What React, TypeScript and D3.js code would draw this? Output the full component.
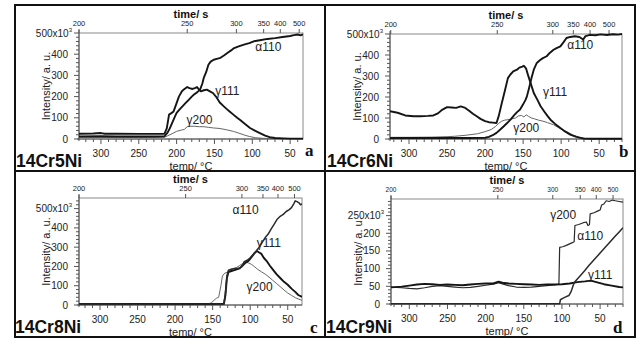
import React from "react";
import * as d3 from "d3";

type Pt = [number, number];

const FONT = "'Liberation Sans', Arial, Helvetica, sans-serif";
const SERIF = "'Liberation Serif', 'DejaVu Serif', serif";

// shared axis ticks
const tempTicks = [300, 250, 200, 150, 100, 50];
const timeTicks = [200, 250, 300, 350, 400, 500];

// temperature (°C) at which each time tick (s) falls, per panel
const timeTempA = [329, 186, 121, 85, 63, 38];
const timeTempB = [324, 184, 111, 84, 62, 37];
const timeTempC = [328, 186, 111, 83, 63, 41];
const timeTempD = [324, 184, 112, 76, 55, 33];

// ---------- panel a : 14Cr5Ni ----------
const a_alpha110: Pt[] = [
  [329, 12], [300, 13], [280, 12], [250, 12], [230, 12], [216, 13], [212, 30], [209, 50], [206, 75],
  [203, 100], [200, 123], [196, 140], [192, 155], [188, 170], [184, 185], [180, 200], [177, 210],
  [173, 220], [169, 233], [166, 262], [164, 290], [161, 315], [158, 350], [155, 365], [151, 374],
  [147, 378], [142, 383], [137, 395], [133, 406], [128, 418], [124, 429], [118, 437], [111, 445],
  [104, 452], [98, 461], [90, 466], [80, 472], [70, 476], [60, 481], [50, 486], [45, 490], [40, 493],
  [36, 489], [33, 494],
];
const a_gamma111: Pt[] = [
  [329, 25], [310, 26], [300, 28], [295, 25], [280, 25], [250, 24], [230, 24], [216, 25], [213, 50],
  [210, 115], [207, 122], [204, 130], [201, 160], [197, 200], [193, 225], [190, 235], [186, 245],
  [183, 240], [179, 236], [176, 240], [173, 245], [170, 232], [168, 225], [164, 230], [160, 233],
  [156, 225], [152, 217], [148, 200], [143, 172], [138, 155], [134, 142], [130, 130], [125, 115],
  [120, 100], [116, 90], [110, 72], [103, 52], [96, 38], [90, 28], [83, 16], [77, 9], [70, 5],
  [59, 3], [50, 2], [33, 2],
];
const a_gamma200: Pt[] = [
  [329, 8], [300, 8], [250, 7], [216, 8], [212, 15], [206, 25], [200, 36], [194, 42], [190, 45],
  [186, 58], [182, 60], [176, 60], [170, 58], [164, 58], [158, 55], [151, 52], [144, 50], [136, 45],
  [125, 36], [118, 28], [110, 18], [104, 12], [96, 6], [85, 3], [70, 2], [33, 2],
];

// ---------- panel b : 14Cr6Ni ----------
const b_alpha110: Pt[] = [
  [325, 5], [300, 5], [250, 5], [220, 5], [200, 6], [195, 10], [190, 18], [185, 29], [180, 45],
  [175, 62], [171, 76], [166, 95], [162, 112], [158, 128], [154, 140], [150, 165], [147, 185],
  [145, 203], [142, 245], [139, 290], [136, 330], [132, 362], [128, 375], [124, 385], [119, 394],
  [115, 410], [110, 425], [106, 433], [101, 441], [97, 460], [93, 481], [88, 486], [82, 489],
  [76, 486], [71, 474], [68, 490], [62, 496], [55, 494], [48, 498], [40, 495], [32, 499], [25, 497],
  [20, 500],
];
const b_gamma111: Pt[] = [
  [325, 132], [315, 125], [305, 112], [294, 108], [285, 108], [275, 110], [268, 112], [262, 122],
  [256, 140], [250, 152], [244, 150], [238, 148], [232, 155], [226, 148], [221, 135], [216, 120],
  [211, 108], [206, 96], [200, 85], [195, 80], [190, 78], [185, 76], [182, 110], [178, 171],
  [174, 230], [170, 290], [167, 306], [163, 322], [158, 330], [155, 340], [151, 345], [149, 349],
  [146, 335], [143, 298], [140, 265], [136, 219], [131, 185], [127, 156], [122, 130], [118, 110],
  [114, 92], [108, 72], [101, 52], [95, 36], [88, 21], [80, 10], [70, 2], [60, 1], [20, 1],
];
const b_gamma200: Pt[] = [
  [325, 8], [300, 8], [270, 9], [250, 11], [240, 13], [225, 18], [210, 25], [200, 35], [192, 45],
  [186, 60], [182, 75], [178, 85], [174, 90], [170, 92], [165, 96], [160, 100], [156, 110],
  [152, 112], [149, 105], [146, 115], [143, 108], [139, 100], [135, 96], [130, 90], [124, 85],
  [118, 78], [110, 68], [104, 55], [96, 40], [90, 30], [84, 18], [76, 8], [68, 2], [20, 1],
];

// ---------- panel c : 14Cr8Ni ----------
const c_alpha110: Pt[] = [
  [328, 5], [300, 5], [250, 4], [200, 5], [160, 5], [140, 5], [135, 5], [133, 60], [131, 150],
  [129, 180], [126, 185], [122, 188], [118, 190], [114, 192], [111, 200], [108, 225], [104, 232],
  [100, 245], [96, 262], [92, 280], [88, 300], [84, 325], [80, 350], [76, 368], [72, 395], [68, 420],
  [64, 445], [60, 460], [56, 470], [52, 485], [48, 495], [45, 505], [42, 525], [40, 540], [37, 535],
  [35, 530], [33, 520], [31, 525],
];
const c_gamma111: Pt[] = [
  [328, 6], [300, 6], [250, 5], [200, 5], [150, 5], [135, 6], [133, 50], [131, 140], [129, 170],
  [126, 175], [122, 180], [118, 185], [114, 190], [110, 205], [106, 220], [102, 230], [98, 250],
  [94, 270], [91, 280], [88, 272], [85, 265], [82, 245], [78, 228], [74, 205], [70, 185], [65, 160],
  [60, 140], [55, 120], [50, 105], [45, 85], [40, 68], [36, 52], [31, 42],
];
const c_gamma200: Pt[] = [
  [328, 3], [300, 3], [250, 3], [200, 3], [160, 4], [152, 10], [148, 25], [145, 35], [142, 40],
  [139, 100], [137, 150], [134, 165], [130, 170], [126, 180], [122, 190], [118, 195], [114, 205],
  [110, 215], [106, 222], [102, 218], [98, 210], [94, 198], [90, 185], [85, 172], [80, 160],
  [75, 145], [70, 128], [65, 112], [60, 95], [55, 78], [50, 62], [45, 50], [40, 38], [35, 30],
  [31, 24],
];

// ---------- panel d : 14Cr9Ni ----------
const d_alpha110: Pt[] = [
  [324, 1], [300, 1], [250, 1], [200, 1], [150, 1], [110, 1], [103, 1], [102, 12], [99, 16],
  [95, 20], [91, 24], [88, 35], [86, 48], [84, 60], [81, 68], [76, 80], [70, 95], [65, 108],
  [60, 120], [55, 132], [50, 144], [45, 156], [40, 168], [35, 180], [30, 192], [25, 204], [20, 216],
];
const d_gamma111: Pt[] = [
  [324, 47], [310, 49], [300, 52], [290, 55], [280, 57], [270, 56], [260, 54], [250, 55], [240, 54],
  [230, 53], [220, 55], [210, 57], [200, 58], [190, 58], [183, 63], [178, 60], [170, 58], [160, 57],
  [150, 56], [140, 55], [130, 54], [120, 55], [110, 55], [100, 56], [90, 58], [80, 62], [70, 64],
  [62, 66], [55, 62], [45, 56], [35, 52], [25, 48], [20, 47],
];
const d_gamma200: Pt[] = [
  [324, 48], [310, 46], [300, 44], [290, 43], [280, 46], [270, 50], [260, 52], [250, 50], [240, 48],
  [230, 46], [220, 47], [210, 50], [200, 53], [190, 56], [183, 60], [178, 57], [170, 52], [160, 48],
  [150, 47], [140, 48], [130, 50], [120, 52], [110, 54], [104, 56], [103, 160], [99, 162], [95, 165],
  [90, 170], [87, 173], [84, 176], [83, 222], [78, 225], [72, 230], [68, 232], [66, 222], [64, 224],
  [63, 255], [58, 258], [52, 264], [50, 266], [48, 280], [45, 283], [42, 292], [38, 290], [34, 294],
  [30, 292], [25, 290], [20, 288],
];

const THICK = { w: 1.9, c: "#151515" };
const MID = { w: 1.5, c: "#2a2a2a" };
const THIN = { w: 1.0, c: "#666" };

interface Series { data: Pt[]; w: number; c: string }
interface Lab { t: number; v: number; text: string }
interface PanelCfg {
  left: number; right: number; top: number; bottom: number;
  tDomain: [number, number];
  yMax: number; yMajor: number; yMinor: number; yTopLabel: number;
  timeTemps: number[]; timeFont: number;
  series: Series[]; labels: Lab[];
  name: string; nameX: number; nameY: number;
  letter: string; letterX: number; letterY: number;
}

const panels: PanelCfg[] = [
  {
    left: 79, right: 303, top: 33, bottom: 139, tDomain: [329, 33],
    yMax: 500, yMajor: 100, yMinor: 20, yTopLabel: 500, timeTemps: timeTempA, timeFont: 7.5,
    series: [
      { data: a_gamma200, ...THIN },
      { data: a_gamma111, ...THICK },
      { data: a_alpha110, ...THICK },
    ],
    labels: [
      { t: 96, v: 435, text: "α110" },
      { t: 149, v: 228, text: "γ111" },
      { t: 187, v: 91, text: "γ200" },
    ],
    name: "14Cr5Ni", nameX: 16, nameY: 167, letter: "a", letterX: 305, letterY: 156,
  },
  {
    left: 390, right: 622, top: 34, bottom: 139, tDomain: [325, 20],
    yMax: 500, yMajor: 100, yMinor: 20, yTopLabel: 500, timeTemps: timeTempB, timeFont: 7.5,
    series: [
      { data: b_gamma200, ...THIN },
      { data: b_gamma111, ...THICK },
      { data: b_alpha110, ...THICK },
    ],
    labels: [
      { t: 92, v: 449, text: "α110" },
      { t: 124, v: 225, text: "γ111" },
      { t: 163, v: 54, text: "γ200" },
    ],
    name: "14Cr6Ni", nameX: 327, nameY: 167, letter: "b", letterX: 619, letterY: 157,
  },
  {
    left: 79, right: 302, top: 198, bottom: 305, tDomain: [328, 31],
    yMax: 555, yMajor: 100, yMinor: 20, yTopLabel: 500, timeTemps: timeTempC, timeFont: 7.5,
    series: [
      { data: c_gamma200, ...THIN },
      { data: c_gamma111, ...THICK },
      { data: c_alpha110, ...MID },
    ],
    labels: [
      { t: 123.5, v: 492, text: "α110" },
      { t: 91.4, v: 321, text: "γ111" },
      { t: 104.8, v: 93, text: "γ200" },
    ],
    name: "14Cr8Ni", nameX: 15, nameY: 333, letter: "c", letterX: 310, letterY: 333,
  },
  {
    left: 391, right: 623, top: 199, bottom: 304, tDomain: [324, 20],
    yMax: 297, yMajor: 50, yMinor: 10, yTopLabel: 250, timeTemps: timeTempD, timeFont: 6.5,
    series: [
      { data: d_gamma200, ...MID, w: 1.2 },
      { data: d_gamma111, ...THICK },
      { data: d_alpha110, ...MID },
    ],
    labels: [
      { t: 115.4, v: 253, text: "γ200" },
      { t: 80, v: 191, text: "α110" },
      { t: 65.7, v: 83, text: "γ111" },
    ],
    name: "14Cr9Ni", nameX: 326, nameY: 333, letter: "d", letterX: 613, letterY: 333,
  },
];

function Panel({ p }: { p: PanelCfg }) {
  const x = d3.scaleLinear().domain(p.tDomain).range([p.left, p.right]);
  const y = d3.scaleLinear().domain([0, p.yMax]).range([p.bottom, p.top]);
  const line = d3.line<Pt>().x((d) => x(d[0])).y((d) => y(d[1]));
  const tMin = Math.min(...p.tDomain);
  const tMax = Math.max(...p.tDomain);
  const xMinor = d3.range(Math.ceil(tMin / 10) * 10, tMax + 0.01, 10).filter((t) => t % 50 !== 0);
  const yMinor = d3.range(0, p.yMax + 0.01, p.yMinor).filter((v) => v % p.yMajor !== 0);
  const yMajor = d3.range(0, p.yTopLabel + 0.01, p.yMajor);
  const axisCol = "#555";
  const midX = (p.left + p.right) / 2;
  const midY = (p.top + p.bottom) / 2;
  return (
    <g>
      <defs>
        <clipPath id={`clip-${p.name}`}>
          <rect x={p.left} y={p.top - 2} width={p.right - p.left} height={p.bottom - p.top + 3} />
        </clipPath>
      </defs>
      {/* frame */}
      <rect x={p.left} y={p.top} width={p.right - p.left} height={p.bottom - p.top}
        fill="none" stroke="#8a8a8a" strokeWidth={1} />
      {/* bottom axis ticks */}
      {tempTicks.map((t) => (
        <g key={`xt${t}`}>
          <line x1={x(t)} x2={x(t)} y1={p.bottom} y2={p.bottom + 5} stroke={axisCol} strokeWidth={1} />
          <text x={x(t)} y={p.bottom + 18} textAnchor="middle" fontSize={10} fill="#222" fontFamily={FONT}>{t}</text>
        </g>
      ))}
      {xMinor.map((t) => (
        <line key={`xm${t}`} x1={x(t)} x2={x(t)} y1={p.bottom} y2={p.bottom + 3} stroke={axisCol} strokeWidth={1} />
      ))}
      <line x1={p.left - 2} x2={p.right} y1={p.bottom} y2={p.bottom} stroke={axisCol} strokeWidth={1} />
      {/* left axis */}
      <line x1={p.left} x2={p.left} y1={p.bottom + 2} y2={p.top - 3} stroke={axisCol} strokeWidth={1} />
      {yMajor.map((v) => (
        <g key={`yt${v}`}>
          <line x1={p.left - 5} x2={p.left} y1={y(v)} y2={y(v)} stroke={axisCol} strokeWidth={1} />
          {v === p.yTopLabel ? (
            <text x={p.left - 7} y={y(v) + 3.5} textAnchor="end" fontSize={10} fill="#222" fontFamily={FONT}>
              {`${v}x10`}
              <tspan fontSize={6} dy={-5}>3</tspan>
            </text>
          ) : (
            <text x={p.left - 11} y={y(v) + 3.5} textAnchor="end" fontSize={10} fill="#222" fontFamily={FONT}>{v}</text>
          )}
        </g>
      ))}
      {yMinor.map((v) => (
        <line key={`ym${v}`} x1={p.left - 3} x2={p.left} y1={y(v)} y2={y(v)} stroke={axisCol} strokeWidth={1} />
      ))}
      {/* top time axis */}
      {timeTicks.map((s, i) => (
        <g key={`tt${s}`}>
          <line x1={x(p.timeTemps[i])} x2={x(p.timeTemps[i])} y1={p.top} y2={p.top - 4} stroke={axisCol} strokeWidth={1} />
          <text x={x(p.timeTemps[i])} y={p.top - 7.5} textAnchor="middle" fontSize={p.timeFont} fill="#222" fontFamily={FONT}>{s}</text>
        </g>
      ))}
      <text x={midX} y={p.top - 15} textAnchor="middle" fontSize={11} fontWeight="bold" fill="#111" fontFamily={FONT}>time/ s</text>
      <text x={midX} y={p.bottom + 30.5} textAnchor="middle" fontSize={11} fill="#222" fontFamily={FONT}>temp/ °C</text>
      <text transform={`translate(${p.left - 29},${midY}) rotate(-90)`} textAnchor="middle" fontSize={11}
        fill="#222" fontFamily={FONT}>Intensity/ a. u.</text>
      {/* data */}
      <g clipPath={`url(#clip-${p.name})`}>
        {p.series.map((s, i) => (
          <path key={i} d={line(s.data) || ""} fill="none" stroke={s.c} strokeWidth={s.w} strokeLinejoin="round" />
        ))}
      </g>
      {p.labels.map((l) => (
        <text key={l.text} x={x(l.t)} y={y(l.v) + 4} fontSize={12} fill="#222" fontFamily={FONT}>{l.text}</text>
      ))}
      <text x={p.nameX} y={p.nameY} fontSize={17.5} fontWeight="bold" fill="#111" fontFamily={FONT}>{p.name}</text>
      <text x={p.letterX} y={p.letterY} fontSize={17} fontWeight="bold" fill="#111" fontFamily={SERIF}>{p.letter}</text>
    </g>
  );
}

export default function App() {
  return (
    <svg width={640} height={339} style={{ position: "absolute", left: 0, top: 0, background: "#fff" }}>
      <rect x={0} y={0} width={640} height={339} fill="#fff" />
      <rect x={15} y={5} width={620} height={332} fill="none" stroke="#111" strokeWidth={2} />
      <line x1={15} x2={635} y1={171} y2={171} stroke="#111" strokeWidth={2} />
      <line x1={325} x2={325} y1={5} y2={337} stroke="#111" strokeWidth={2} />
      {panels.map((p) => (
        <Panel key={p.name} p={p} />
      ))}
    </svg>
  );
}
